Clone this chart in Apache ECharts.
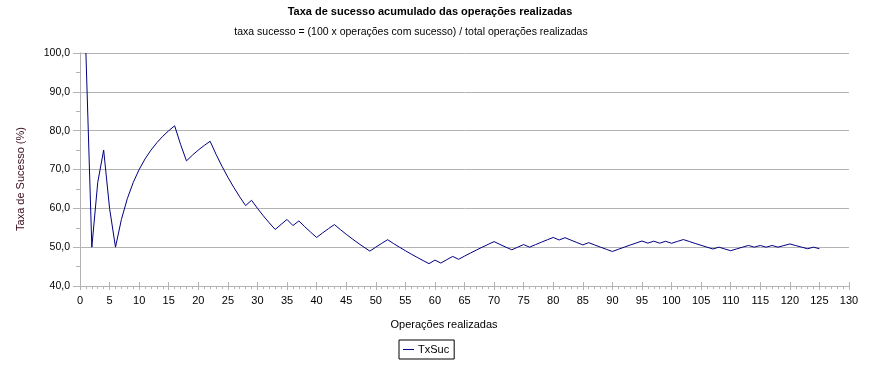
<!DOCTYPE html>
<html>
<head>
<meta charset="utf-8">
<script src="https://cdn.jsdelivr.net/npm/echarts@6/dist/echarts.min.js"></script>
<style>html,body{margin:0;padding:0;background:#fff}#c{width:887px;height:368px}</style>
</head>
<body>
<div id="c"></div>
<script>
const chartTitle = "Taxa de sucesso acumulado das operações realizadas";
const chartSubtitle = "taxa sucesso = (100 x operações com sucesso) / total operações realizadas";
const xAxisTitle = "Operações realizadas";
const yAxisTitle = "Taxa de Sucesso (%)";
const seriesName = "TxSuc";
const operations = [];
for (let i = 1; i <= 125; i++) operations.push(i);
const txSuc = [
  100.00, 50.00, 66.67, 75.00, 60.00, 50.00, 57.14, 62.50, 66.67, 70.00,
  72.73, 75.00, 76.92, 78.57, 80.00, 81.25, 76.47, 72.22, 73.68, 75.00,
  76.19, 77.27, 73.91, 70.83, 68.00, 65.38, 62.96, 60.71, 62.07, 60.00,
  58.06, 56.25, 54.55, 55.88, 57.14, 55.56, 56.76, 55.26, 53.85, 52.50,
  53.66, 54.76, 55.81, 54.55, 53.33, 52.17, 51.06, 50.00, 48.98, 50.00,
  50.98, 51.92, 50.94, 50.00, 49.09, 48.21, 47.37, 46.55, 45.76, 46.67,
  45.90, 46.77, 47.62, 46.88, 47.69, 48.48, 49.25, 50.00, 50.72, 51.43,
  50.70, 50.00, 49.32, 50.00, 50.67, 50.00, 50.65, 51.28, 51.90, 52.50,
  51.85, 52.44, 51.81, 51.19, 50.59, 51.16, 50.57, 50.00, 49.44, 48.89,
  49.45, 50.00, 50.54, 51.06, 51.58, 51.04, 51.55, 51.02, 51.52, 51.00,
  51.49, 51.96, 51.46, 50.96, 50.48, 50.00, 49.53, 50.00, 49.54, 49.09,
  49.55, 50.00, 50.44, 50.00, 50.43, 50.00, 50.43, 50.00, 50.42, 50.83,
  50.41, 50.00, 49.59, 50.00, 49.60
];

const FONT = "'Liberation Sans', Arial, sans-serif";
const GRAY = '#b3b3b3';
const chart = echarts.init(document.getElementById('c'));
const pts = operations.map((x, i) => [x, txSuc[i]]);

chart.setOption({
  animation: false,
  textStyle: { fontFamily: FONT },
  grid: { left: 80, right: 38, top: 53, bottom: 82, containLabel: false },
  xAxis: [{
    type: 'value', min: 0, max: 130, interval: 5,
    axisLine: { show: true, lineStyle: { color: GRAY, width: 1 } },
    axisTick: { show: true, length: 4, lineStyle: { color: GRAY } },
    minorTick: { show: true, splitNumber: 5, length: 3, lineStyle: { color: GRAY } },
    splitLine: { show: false },
    axisLabel: { color: '#000', fontSize: 11, fontFamily: FONT, margin: 9 }
  }, {
    type: 'value', min: 0, max: 130, interval: 5, position: 'bottom',
    axisLine: { show: false },
    axisTick: { show: true, inside: true, length: 4, lineStyle: { color: GRAY } },
    axisLabel: { show: false }, splitLine: { show: false }
  }],
  yAxis: [{
    type: 'value', min: 40, max: 100, interval: 10,
    axisLine: { show: true, lineStyle: { color: GRAY, width: 1 } },
    axisTick: { show: true, length: 7, lineStyle: { color: GRAY } },
    minorTick: { show: true, splitNumber: 2, length: 4, lineStyle: { color: GRAY } },
    splitLine: { show: true, lineStyle: { color: GRAY, width: 1 } },
    axisLabel: { color: '#000', fontSize: 10.5, fontFamily: FONT, margin: 10,
      formatter: v => v.toFixed(1).replace('.', ',') }
  }, {
    type: 'value', min: 40, max: 100, interval: 10, position: 'right',
    axisLine: { show: true, lineStyle: { color: GRAY, width: 1 } },
    axisTick: { show: false }, axisLabel: { show: false }, splitLine: { show: false }
  }],
  legend: {
    left: 399, top: 340,
    data: [{ name: seriesName, icon: 'rect' }],
    itemWidth: 11, itemHeight: 1, itemGap: 4,
    borderColor: '#000', borderWidth: 1, padding: [4, 5, 4, 4],
    textStyle: { color: '#000', fontSize: 11, fontFamily: FONT, padding: [0, 0, 0, -1] }
  },
  series: [{
    name: seriesName, type: 'line', data: pts, symbol: 'none',
    lineStyle: { color: '#000080', width: 1 }, itemStyle: { color: '#000080' }
  }],
  graphic: [
    { type: 'text', x: 430, y: 12, style: { text: chartTitle, fill: '#000', font: "bold 11px " + FONT, textAlign: 'center', textVerticalAlign: 'middle' } },
    { type: 'text', x: 411, y: 32, style: { text: chartSubtitle, fill: '#000', font: "10.5px " + FONT, textAlign: 'center', textVerticalAlign: 'middle' } },
    { type: 'text', x: 444, y: 325, style: { text: xAxisTitle, fill: '#000', font: "11px " + FONT, textAlign: 'center', textVerticalAlign: 'middle' } },
    { type: 'text', x: 21, y: 179, rotation: Math.PI / 2, style: { text: yAxisTitle, fill: '#3a0a1a', font: "11px " + FONT, textAlign: 'center', textVerticalAlign: 'middle' } }
  ]
});
</script>
</body>
</html>
